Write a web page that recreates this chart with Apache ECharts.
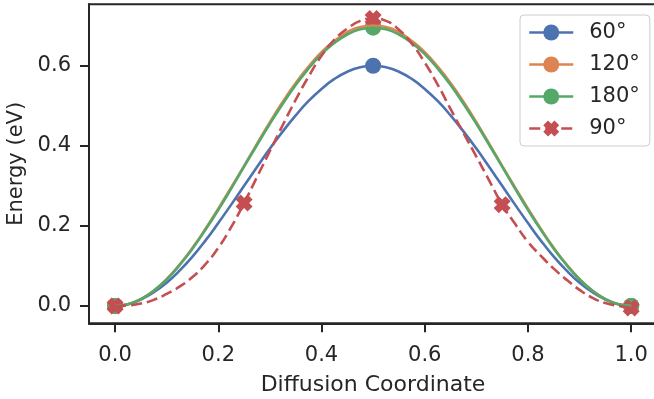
<!DOCTYPE html>
<html>
<head>
<meta charset="utf-8">
<script src="https://cdn.jsdelivr.net/npm/echarts@6/dist/echarts.min.js"></script>
<style>
html,body{margin:0;padding:0;background:#fff;}
#chart{width:654px;height:399px;}
</style>
</head>
<body>
<div id="chart"></div>
<script>
// Diffusion coordinate positions at which the curves were read
const xs = [0, 0.025, 0.05, 0.075, 0.1, 0.125, 0.15, 0.175, 0.2, 0.225, 0.25, 0.275, 0.3, 0.325, 0.35, 0.375, 0.4, 0.425, 0.45, 0.475, 0.5,
            0.525, 0.55, 0.575, 0.6, 0.625, 0.65, 0.675, 0.7, 0.725, 0.75, 0.775, 0.8, 0.825, 0.85, 0.875, 0.9, 0.925, 0.95, 0.975, 1.0];
// Curve values (eV)
const e60  = [0, 0.004, 0.016, 0.034, 0.058, 0.088, 0.123, 0.163, 0.207, 0.253, 0.300, 0.347, 0.393, 0.436, 0.476, 0.512, 0.542, 0.567, 0.585, 0.596, 0.600,
              0.596, 0.585, 0.567, 0.542, 0.512, 0.476, 0.436, 0.393, 0.347, 0.300, 0.253, 0.207, 0.163, 0.123, 0.088, 0.058, 0.034, 0.016, 0.004, 0];
const e120 = [0, 0.004, 0.017, 0.038, 0.067, 0.103, 0.145, 0.192, 0.243, 0.296, 0.350, 0.405, 0.459, 0.510, 0.557, 0.598, 0.634, 0.662, 0.684, 0.697, 0.700,
              0.697, 0.684, 0.662, 0.634, 0.598, 0.557, 0.510, 0.459, 0.405, 0.350, 0.296, 0.243, 0.192, 0.145, 0.103, 0.067, 0.038, 0.017, 0.004, 0];
const e180 = [0, 0.004, 0.017, 0.038, 0.066, 0.102, 0.143, 0.190, 0.240, 0.293, 0.348, 0.402, 0.455, 0.505, 0.552, 0.593, 0.629, 0.657, 0.678, 0.691, 0.695,
              0.691, 0.678, 0.657, 0.629, 0.593, 0.552, 0.505, 0.455, 0.402, 0.348, 0.293, 0.240, 0.190, 0.143, 0.102, 0.066, 0.038, 0.017, 0.004, 0];
const e90  = [0, 0.001, 0.006, 0.015, 0.030, 0.048, 0.072, 0.104, 0.145, 0.197, 0.257, 0.322, 0.387, 0.452, 0.515, 0.573, 0.625, 0.665, 0.693, 0.712, 0.718,
              0.712, 0.690, 0.655, 0.608, 0.553, 0.492, 0.432, 0.373, 0.313, 0.253, 0.205, 0.160, 0.125, 0.093, 0.065, 0.040, 0.020, 0.007, 0.000, -0.005];
// Marker (image) points
const mx3 = [0, 0.5, 1.0];
const m60  = [0, 0.600, 0];
const m120 = [0, 0.700, 0];
const m180 = [0, 0.695, 0];
const mx5 = [0, 0.25, 0.5, 0.75, 1.0];
const m90  = [0, 0.257, 0.718, 0.253, -0.005];
// Series names and tick labels
const names = ['60°', '120°', '180°', '90°'];
const xTicks = [0.0, 0.2, 0.4, 0.6, 0.8, 1.0];
const yTicks = [0.0, 0.2, 0.4, 0.6];

const colors = ['#4C72B0', '#DD8452', '#55A868', '#C44E52'];
const ink = '#262626';
const font = 'DejaVu Sans';
const xPath = 'path://M0,-0.6 L0.4,-1 L1,-0.4 L0.6,0 L1,0.4 L0.4,1 L0,0.6 L-0.4,1 L-1,0.4 L-0.6,0 L-1,-0.4 L-0.4,-1 Z';

function pairs(x, y) { return x.map((v, i) => [v, y[i]]); }

function curve(name, ys, color, dashed, symbol) {
  return {
    type: 'line', name: name, data: pairs(xs, ys), smooth: true,
    showSymbol: false, symbol: symbol, symbolSize: 16,
    lineStyle: { color: color, width: 2.6, type: dashed ? [11, 5] : 'solid', cap: 'butt' },
    itemStyle: { color: color },
    emphasis: { disabled: true }, silent: true, animation: false
  };
}
function marks(name, mx, my, color, symbol, size) {
  return {
    type: 'scatter', name: name, data: pairs(mx, my),
    symbol: symbol, symbolSize: size,
    itemStyle: { color: color, opacity: 1 },
    emphasis: { disabled: true }, silent: true, animation: false
  };
}

const chart = echarts.init(document.getElementById('chart'), null, { renderer: 'canvas' });
chart.setOption({
  animation: false,
  backgroundColor: '#fff',
  grid: { left: 89, top: 4.3, width: 568, height: 319, containLabel: false, outerBoundsMode: 'none',
          show: true, borderColor: ink, borderWidth: 2, backgroundColor: 'transparent' },
  xAxis: {
    type: 'value', min: -0.0505, max: 1.05,
    name: 'Diffusion Coordinate', nameLocation: 'middle', nameGap: 51,
    nameTextStyle: { fontFamily: font, fontSize: 22, color: ink },
    axisLine: { show: true, onZero: false, lineStyle: { color: ink, width: 2 } },
    axisTick: { show: true, length: 9, lineStyle: { color: ink, width: 2 }, customValues: xTicks },
    axisLabel: { fontFamily: font, fontSize: 21, color: ink, margin: 22, customValues: xTicks, formatter: v => v.toFixed(1) },
    splitLine: { show: false }
  },
  yAxis: {
    type: 'value', min: -0.0435, max: 0.7535,
    name: 'Energy (eV)', nameLocation: 'middle', nameGap: 55, nameRotate: 90,
    nameTextStyle: { fontFamily: font, fontSize: 21, color: ink },
    axisLine: { show: true, onZero: false, lineStyle: { color: ink, width: 2 } },
    axisTick: { show: true, length: 9, lineStyle: { color: ink, width: 2 }, customValues: yTicks },
    axisLabel: { fontFamily: font, fontSize: 21, color: ink, margin: 18, customValues: yTicks, formatter: v => v.toFixed(1) },
    splitLine: { show: false }
  },
  legend: {
    data: names, orient: 'vertical', left: 520, top: 15,
    itemWidth: 44, itemHeight: 20, itemGap: 11,
    padding: [7, 10, 7, 8],
    borderColor: '#cccccc', borderWidth: 1, borderRadius: 4,
    backgroundColor: 'rgba(255,255,255,0.8)',
    lineStyle: { width: 2.5 },
    textStyle: { fontFamily: font, fontSize: 21, color: ink, padding: [0, 0, 0, 11] },
    selectedMode: false
  },
  series: [
    curve(names[0], e60, colors[0], false, 'circle'),
    marks(names[0], mx3, m60, colors[0], 'circle', 16),
    curve(names[1], e120, colors[1], false, 'circle'),
    marks(names[1], mx3, m120, colors[1], 'circle', 16),
    curve(names[2], e180, colors[2], false, 'circle'),
    marks(names[2], mx3, m180, colors[2], 'circle', 16),
    curve(names[3], e90, colors[3], true, xPath),
    marks(names[3], mx5, m90, colors[3], xPath, 17)
  ]
});
</script>
</body>
</html>
